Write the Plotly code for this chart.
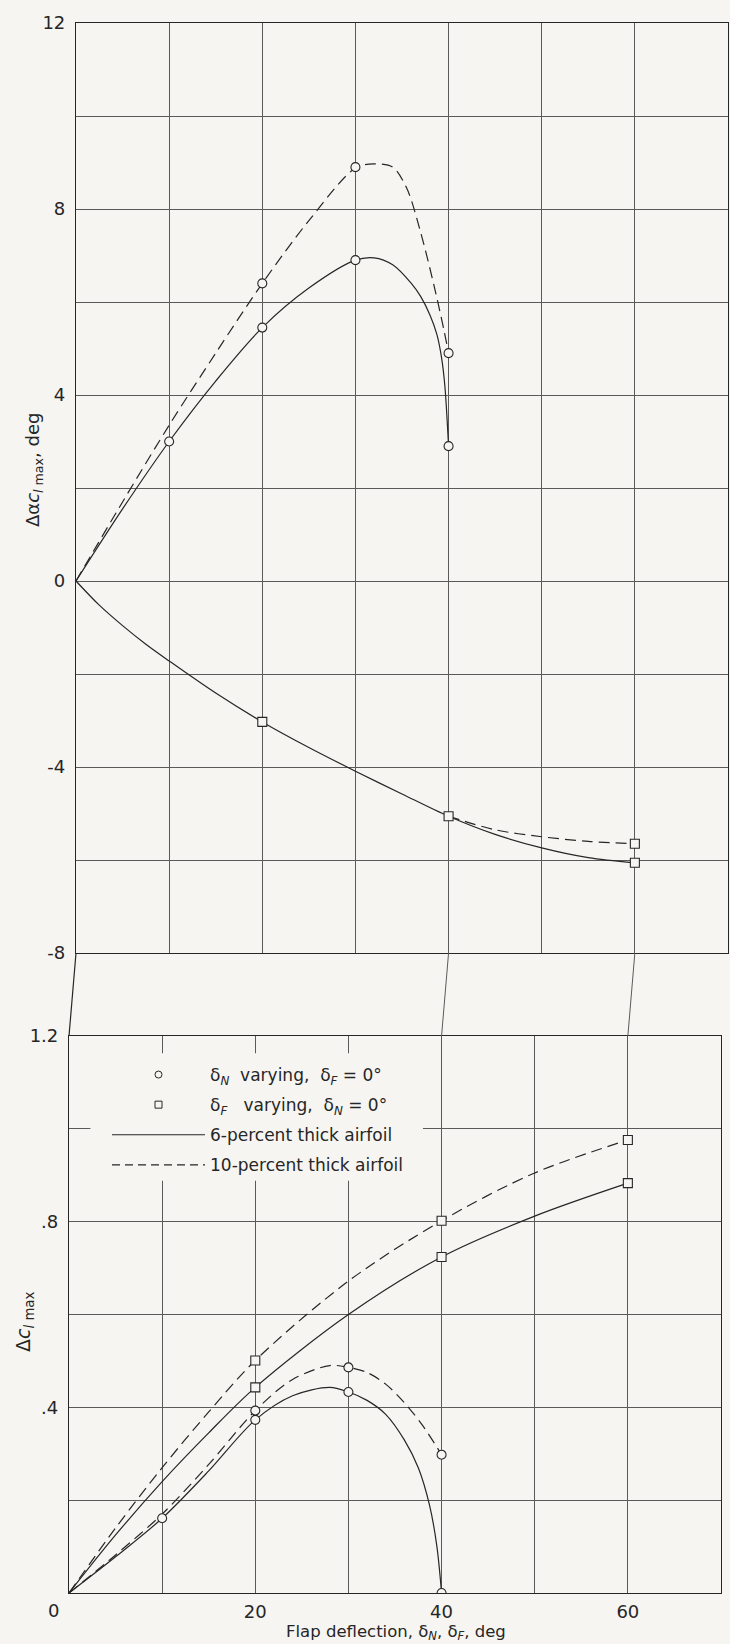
import plotly.graph_objects as go

# ---------------- data ----------------
# Top panel: increment in angle of attack for c_l,max (deg)
top_circ6_x = [10, 20, 30, 40]
top_circ6_y = [3.0, 5.45, 6.9, 2.9]
top_circ10_x = [20, 30, 40]
top_circ10_y = [6.4, 8.9, 4.9]
top_sq6_x = [20, 40, 60]
top_sq6_y = [-3.03, -5.06, -6.06]
top_sq10_x = [60]
top_sq10_y = [-5.65]

# faired curves
top_c6_cx = [0, 5, 10, 15, 20, 25, 30, 32, 34, 36, 37, 38, 38.75, 39.25, 39.6, 40]
top_c6_cy = [0, 1.55, 3.0, 4.3, 5.45, 6.3, 6.9, 6.95, 6.8, 6.4, 6.12, 5.72, 5.3, 4.8, 4.2, 2.9]
top_c10_cx = [0, 5, 10, 15, 20, 25, 30, 32, 34, 35.5, 37, 38.5, 39.5, 40]
top_c10_cy = [0, 1.7, 3.35, 4.9, 6.4, 7.75, 8.88, 8.97, 8.9, 8.45, 7.5, 6.3, 5.4, 4.9]
top_s6_cx = [0, 2.5, 5, 7.5, 10, 15, 20, 25, 30, 35, 40, 45, 50, 55, 60]
top_s6_cy = [0, -0.52, -0.96, -1.36, -1.72, -2.41, -3.03, -3.58, -4.09, -4.58, -5.06, -5.45, -5.74, -5.95, -6.06]
top_s10_cx = [40, 45, 50, 55, 60]
top_s10_cy = [-5.06, -5.35, -5.5, -5.6, -5.65]

# Bottom panel: increment in maximum section lift coefficient
bot_circ6_x = [10, 20, 30, 40]
bot_circ6_y = [0.161, 0.373, 0.433, 0.0]
bot_circ10_x = [20, 30, 40]
bot_circ10_y = [0.393, 0.486, 0.298]
bot_sq6_x = [20, 40, 60]
bot_sq6_y = [0.443, 0.724, 0.883]
bot_sq10_x = [20, 40, 60]
bot_sq10_y = [0.501, 0.802, 0.976]

bot_c6_cx = [0, 5, 10, 15, 20, 24, 28, 30, 32, 34, 36, 37.5, 38.7, 39.5, 40]
bot_c6_cy = [0, 0.078, 0.161, 0.263, 0.373, 0.425, 0.443, 0.433, 0.415, 0.385, 0.33, 0.27, 0.19, 0.1, 0.0]
bot_c10_cx = [0, 5, 10, 15, 20, 24, 28, 30, 32, 34, 36, 38, 40]
bot_c10_cy = [0, 0.082, 0.17, 0.277, 0.393, 0.46, 0.49, 0.486, 0.475, 0.45, 0.41, 0.36, 0.298]
bot_s6_cx = [0, 5, 10, 15, 20, 30, 40, 50, 60]
bot_s6_cy = [0, 0.125, 0.24, 0.345, 0.443, 0.60, 0.724, 0.812, 0.883]
bot_s10_cx = [0, 5, 10, 15, 20, 30, 40, 50, 60]
bot_s10_cy = [0, 0.14, 0.27, 0.39, 0.501, 0.672, 0.802, 0.905, 0.976]

# ticks and grid
x_grid = [0, 10, 20, 30, 40, 50, 60, 70]
x_ticks = [20, 40, 60]
x_ticklabels = ['20', '40', '60']
top_y_grid = [-8, -6, -4, -2, 0, 2, 4, 6, 8, 10, 12]
top_y_ticks = [-8, -4, 0, 4, 8, 12]
top_y_ticklabels = ['-8', '-4', '0', '4', '8', '12']
bot_y_grid = [0, 0.2, 0.4, 0.6, 0.8, 1.0, 1.2]
bot_y_ticks = [0.4, 0.8, 1.2]
bot_y_ticklabels = ['.4', '.8', '1.2']
gap_x = [0, 40, 60]

legend_names = [
    'δ<sub><i>N</i></sub>&nbsp; varying, &nbsp;δ<sub><i>F</i></sub> = 0°',
    'δ<sub><i>F</i></sub>&nbsp;&nbsp; varying, &nbsp;δ<sub><i>N</i></sub> = 0°',
    '6-percent thick airfoil',
    '10-percent thick airfoil',
]

# ---------------- style ----------------
W, H = 730, 1644
BG = '#f6f5f2'
INK = '#262626'
GRID = '#5a5a5a'
FONT = 'DejaVu Sans'
DASH = '11px,6px'
XMAX = 70

top_dom = [1 - 953 / H, 1 - 23 / H]
bot_dom = [1 - 1593 / H, 1 - 1036 / H]
top_xdom = [76 / W, 728 / W]
bot_xdom = [69 / W, 721 / W]

fig = go.Figure()

def curve(x, y, dash, xa, ya):
    fig.add_trace(go.Scatter(x=x, y=y, mode='lines', xaxis=xa, yaxis=ya,
                             line=dict(color=INK, width=1.2, dash=dash, shape='spline', smoothing=0.9),
                             showlegend=False, hoverinfo='skip'))

def marks(x, y, sym, xa, ya):
    fig.add_trace(go.Scatter(x=x, y=y, mode='markers', xaxis=xa, yaxis=ya,
                             marker=dict(symbol=sym, size=9, color=BG, line=dict(color=INK, width=1.1)),
                             showlegend=False))

# top panel
curve(top_c6_cx, top_c6_cy, 'solid', 'x', 'y')
curve(top_c10_cx, top_c10_cy, DASH, 'x', 'y')
curve(top_s6_cx, top_s6_cy, 'solid', 'x', 'y')
curve(top_s10_cx, top_s10_cy, DASH, 'x', 'y')
marks(top_circ6_x, top_circ6_y, 'circle', 'x', 'y')
marks(top_circ10_x, top_circ10_y, 'circle', 'x', 'y')
marks(top_sq6_x, top_sq6_y, 'square', 'x', 'y')
marks(top_sq10_x, top_sq10_y, 'square', 'x', 'y')

# bottom panel
curve(bot_c6_cx, bot_c6_cy, 'solid', 'x2', 'y2')
curve(bot_c10_cx, bot_c10_cy, DASH, 'x2', 'y2')
curve(bot_s6_cx, bot_s6_cy, 'solid', 'x2', 'y2')
curve(bot_s10_cx, bot_s10_cy, DASH, 'x2', 'y2')
marks(bot_circ6_x, bot_circ6_y, 'circle', 'x2', 'y2')
marks(bot_circ10_x, bot_circ10_y, 'circle', 'x2', 'y2')
marks(bot_sq6_x, bot_sq6_y, 'square', 'x2', 'y2')
marks(bot_sq10_x, bot_sq10_y, 'square', 'x2', 'y2')

# legend key entries (no data)
for i, (name, mode, sym, dash) in enumerate([
        (legend_names[0], 'markers', 'circle', 'solid'),
        (legend_names[1], 'markers', 'square', 'solid'),
        (legend_names[2], 'lines', None, 'solid'),
        (legend_names[3], 'lines', None, '8px,5px')]):
    kw = dict(x=[None], y=[None], mode=mode, name=name, xaxis='x2', yaxis='y2',
              legendgroup=f'g{i}', showlegend=True)
    if mode == 'markers':
        kw['marker'] = dict(symbol=sym, size=7, color=BG, line=dict(color=INK, width=1))
    else:
        kw['line'] = dict(color=INK, width=1.2, dash=dash)
    fig.add_trace(go.Scatter(**kw))

axis_common = dict(showline=True, mirror=True, linecolor=INK, linewidth=1.2,
                   showgrid=True, gridcolor=GRID, gridwidth=1, zeroline=False,
                   ticks='', automargin=False, tickmode='array',
                   tickfont=dict(family=FONT, size=18, color=INK))

def minor(vals):
    return dict(tickmode='array', tickvals=vals, showgrid=True, gridcolor=GRID,
                gridwidth=1, ticks='')

fig.update_layout(
    width=W, height=H,
    margin=dict(l=0, r=0, t=0, b=0),
    paper_bgcolor=BG, plot_bgcolor=BG,
    font=dict(family=FONT, color=INK),
    xaxis=dict(domain=top_xdom, range=[0, XMAX], anchor='y', tickvals=x_grid,
               showticklabels=False, **axis_common),
    yaxis=dict(domain=top_dom, range=[-8, 12], anchor='x', tickvals=top_y_ticks,
               ticktext=top_y_ticklabels, ticklabelstandoff=6,
               minor=minor(top_y_grid), **axis_common),
    xaxis2=dict(domain=bot_xdom, range=[0, XMAX], anchor='y2', tickvals=x_ticks,
                ticktext=x_ticklabels, ticklabelstandoff=2,
                minor=minor(x_grid), **axis_common),
    yaxis2=dict(domain=bot_dom, range=[0, 1.2], anchor='x2', tickvals=bot_y_ticks,
                ticktext=bot_y_ticklabels, ticklabelstandoff=6,
                minor=minor(bot_y_grid), **axis_common),
    legend=dict(x=107 / W, y=1 - 1057 / H, xanchor='left', yanchor='top',
                bgcolor='rgba(0,0,0,0)', borderwidth=0,
                font=dict(family=FONT, size=17, color=INK),
                itemwidth=93, tracegroupgap=5, traceorder='grouped'),
    showlegend=True,
)

# blank area behind legend (grid interrupted in the original)
fig.add_shape(type='rect', xref='x2', yref='y2', x0=2.3, x1=38, y0=0.888, y1=1.163,
              fillcolor=BG, line=dict(width=0), layer='between')

# grid/axis lines continuing through the gap between the panels
for gx in gap_x:
    xt = top_xdom[0] + gx / XMAX * (top_xdom[1] - top_xdom[0])
    xb = bot_xdom[0] + gx / XMAX * (bot_xdom[1] - bot_xdom[0])
    fig.add_shape(type='line', xref='paper', yref='paper', x0=xt, x1=xb,
                  y0=top_dom[0], y1=bot_dom[1],
                  line=dict(color=INK if gx == 0 else GRID, width=1.2 if gx == 0 else 1))

# axis titles and the corner "0"
fig.add_annotation(xref='paper', yref='paper', x=34 / W, y=1 - 470 / H,
                   xanchor='center', yanchor='middle',
                   text='Δα<i>c</i><sub><i>l</i> max</sub>, deg', textangle=-90,
                   showarrow=False, font=dict(family=FONT, size=18, color=INK))
fig.add_annotation(xref='paper', yref='paper', x=24 / W, y=1 - 1322 / H,
                   xanchor='center', yanchor='middle',
                   text='Δ<i>c</i><sub><i>l</i> max</sub>', textangle=-90,
                   showarrow=False, font=dict(family=FONT, size=19, color=INK))
fig.add_annotation(xref='paper', yref='paper', x=396 / W, y=1 - 1632 / H,
                   xanchor='center', yanchor='middle',
                   text='Flap deflection, δ<sub><i>N</i></sub>, δ<sub><i>F</i></sub>, deg',
                   showarrow=False, font=dict(family=FONT, size=16.5, color=INK))
fig.add_annotation(xref='x2', yref='y2', x=0, y=0, text='0', showarrow=False,
                   xshift=-16, yshift=-17, font=dict(family=FONT, size=18, color=INK))

fig.write_html('out.html', config={'displayModeBar': False},
               post_script="document.body.style.margin='0';document.body.style.overflow='hidden';")
